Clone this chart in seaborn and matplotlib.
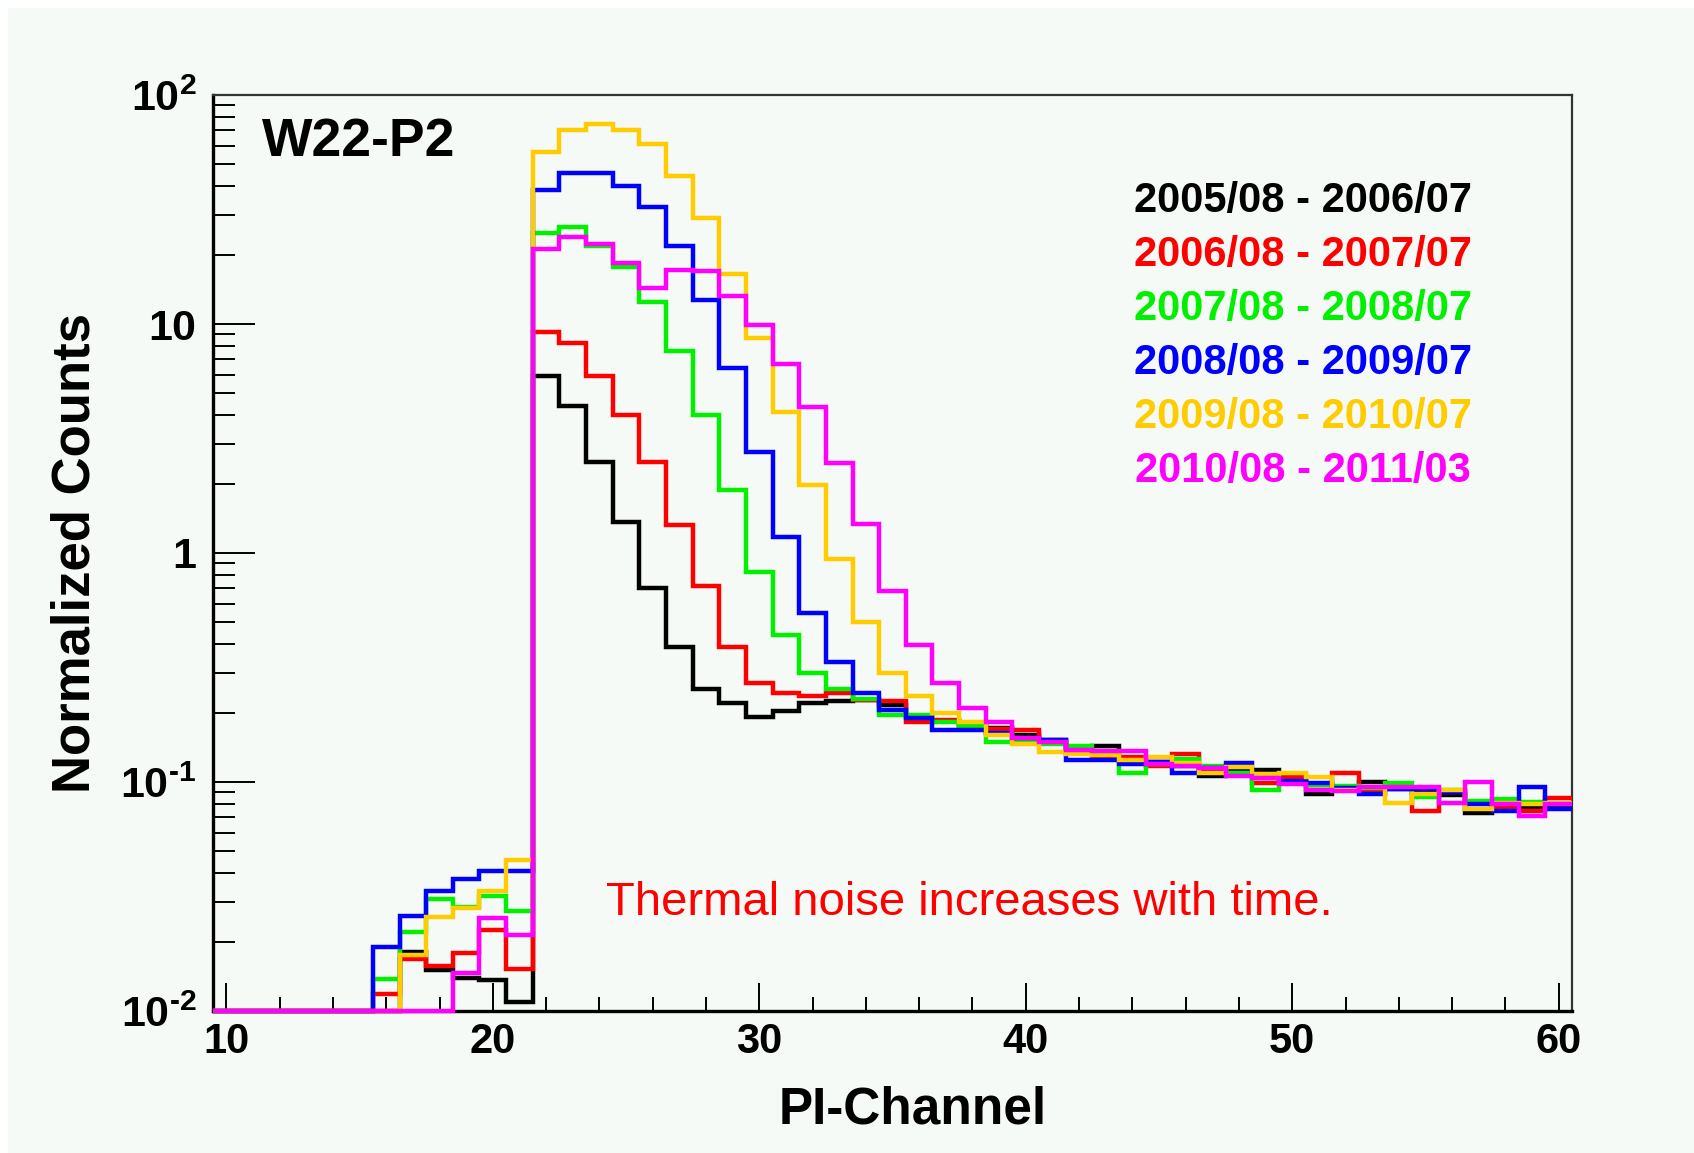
import numpy as np
import pandas as pd
import matplotlib
matplotlib.use("Agg")
import matplotlib.pyplot as plt
import seaborn as sns
from matplotlib.patches import Rectangle
from matplotlib.ticker import MultipleLocator, FixedLocator, FixedFormatter, LogLocator, NullFormatter

# ---------------- data ----------------
channels = list(range(10, 61))

periods = ["2005/08 - 2006/07", "2006/08 - 2007/07", "2007/08 - 2008/07",
           "2008/08 - 2009/07", "2009/08 - 2010/07", "2010/08 - 2011/03"]
colors = ["#000000", "#ff0000", "#00f000", "#0000ff", "#ffcc00", "#ff00ff"]

black = [0, 0, 0, 0, 0, 0, 0,
         0.0181, 0.0151, 0.0140, 0.0137, 0.0110,
         5.9, 4.4, 2.5, 1.37, 0.70, 0.39, 0.254, 0.221, 0.192,
         0.205, 0.221, 0.226, 0.228, 0.217, 0.195, 0.185, 0.176, 0.172, 0.161,
         0.152, 0.140, 0.143, 0.125, 0.122, 0.118, 0.106, 0.112, 0.113, 0.105,
         0.089, 0.093, 0.100, 0.093, 0.090, 0.088, 0.073, 0.080, 0.078, 0.078]
red = [0, 0, 0, 0, 0, 0,
       0.0119, 0.0168, 0.0158, 0.0180, 0.0226, 0.0152,
       9.2, 8.3, 5.9, 4.0, 2.5, 1.33, 0.72, 0.39, 0.27,
       0.244, 0.238, 0.245, 0.228, 0.225, 0.183, 0.186, 0.180, 0.170, 0.168,
       0.150, 0.138, 0.129, 0.129, 0.117, 0.133, 0.112, 0.108, 0.099, 0.105,
       0.097, 0.109, 0.092, 0.094, 0.075, 0.090, 0.081, 0.078, 0.075, 0.085]
green = [0, 0, 0, 0, 0, 0,
         0.0138, 0.0221, 0.0308, 0.0284, 0.0319, 0.0274,
         25.0, 26.6, 22.0, 17.8, 12.5, 7.6, 4.0, 1.88, 0.83,
         0.44, 0.30, 0.256, 0.230, 0.196, 0.196, 0.183, 0.176, 0.150, 0.150,
         0.146, 0.143, 0.136, 0.109, 0.120, 0.126, 0.118, 0.109, 0.092, 0.100,
         0.097, 0.096, 0.094, 0.099, 0.086, 0.092, 0.083, 0.084, 0.082, 0.080]
blue = [0, 0, 0, 0, 0, 0,
        0.0191, 0.0261, 0.0335, 0.0377, 0.0408, 0.0408,
        38.5, 45.5, 45.5, 40.1, 32.3, 21.8, 12.7, 6.4, 2.77,
        1.18, 0.546, 0.334, 0.244, 0.206, 0.190, 0.169, 0.169, 0.163, 0.155,
        0.153, 0.125, 0.125, 0.120, 0.122, 0.110, 0.115, 0.121, 0.108, 0.101,
        0.099, 0.094, 0.089, 0.093, 0.093, 0.090, 0.080, 0.075, 0.095, 0.076]
yellow = [0, 0, 0, 0, 0, 0, 0,
          0.0176, 0.0258, 0.0281, 0.0335, 0.0456,
          56.5, 70.3, 74.5, 70.3, 61.1, 44.3, 29.1, 16.6, 8.7,
          4.14, 1.98, 0.94, 0.50, 0.30, 0.238, 0.200, 0.182, 0.160, 0.147,
          0.135, 0.133, 0.131, 0.125, 0.129, 0.121, 0.109, 0.116, 0.108, 0.109,
          0.105, 0.092, 0.095, 0.081, 0.089, 0.092, 0.076, 0.081, 0.080, 0.081]
magenta = [0, 0, 0, 0, 0, 0, 0, 0, 0,
           0.0146, 0.0254, 0.0215,
           21.2, 24.0, 22.4, 18.4, 14.3, 17.2, 17.1, 13.3, 9.9,
           6.7, 4.33, 2.46, 1.34, 0.684, 0.396, 0.270, 0.210, 0.182, 0.155,
           0.149, 0.138, 0.137, 0.136, 0.120, 0.117, 0.115, 0.106, 0.104, 0.098,
           0.092, 0.091, 0.095, 0.095, 0.095, 0.081, 0.100, 0.080, 0.071, 0.080]

series = [black, red, green, blue, yellow, magenta]

ytick_vals = [0.01, 0.1, 1, 10, 100]
ytick_labels = [r"$10^{\text{-}2}$", r"$10^{\text{-}1}$", "1", "10", r"$10^{2}$"]

YMIN, YMAX = 0.01, 100
XMIN, XMAX = 9.5, 60.5

# ---------------- build step table ----------------
rows = []
for name, vals in zip(periods, series):
    edges = [c - 0.5 for c in channels] + [channels[-1] + 0.5]
    yv = list(vals) + [vals[-1]]
    for e, v in zip(edges, yv):
        rows.append({"edge": e, "value": max(v, YMIN), "period": name})
df = pd.DataFrame(rows)

# ---------------- style ----------------
sns.set_theme(style="ticks")
plt.rcParams["font.family"] = ["Liberation Sans", "DejaVu Sans"]
plt.rcParams["font.weight"] = "bold"
plt.rcParams["mathtext.fontset"] = "custom"
plt.rcParams["mathtext.rm"] = "Liberation Sans:bold"
plt.rcParams["mathtext.bf"] = "Liberation Sans:bold"
plt.rcParams["mathtext.it"] = "Liberation Sans:bold"
plt.rcParams["mathtext.default"] = "bf"

W, H = 1694, 1153
BG = "#f5faf6"

fig = plt.figure(figsize=(W / 100, H / 100), dpi=100, facecolor="white")
fig.patches.append(Rectangle((8 / W, 0), 1, 1 - 8 / H, transform=fig.transFigure,
                             facecolor=BG, edgecolor="none", zorder=-10))

L, R, T, B = 213, 1572, 95, 1011
ax = fig.add_axes([L / W, 1 - B / H, (R - L) / W, (B - T) / H])
ax.set_facecolor(BG)
ax.set_yscale("log")

sns.lineplot(data=df, x="edge", y="value", hue="period", hue_order=periods,
             palette=colors, drawstyle="steps-post", estimator=None, sort=False,
             linewidth=3.2, legend=False, ax=ax)
for ln in ax.lines:
    ln.set_clip_on(False)
    ln.set_solid_joinstyle("miter")
    ln.set_solid_capstyle("butt")

ax.set_xlim(XMIN, XMAX)
ax.set_ylim(YMIN, YMAX)
ax.set_xlabel("")
ax.set_ylabel("")

ax.xaxis.set_major_locator(MultipleLocator(10))
ax.xaxis.set_minor_locator(MultipleLocator(2))
ax.yaxis.set_major_locator(FixedLocator(ytick_vals))
ax.yaxis.set_major_formatter(FixedFormatter(ytick_labels))
ax.yaxis.set_minor_locator(LogLocator(base=10, subs=[2, 3, 4, 5, 6, 7, 8, 9], numticks=20))
ax.yaxis.set_minor_formatter(NullFormatter())

ax.tick_params(axis="x", which="major", direction="in", length=20, width=1.4,
               labelsize=30, pad=8, top=False, color="black", labelcolor="black")
ax.tick_params(axis="x", which="minor", direction="in", length=10, width=1.4,
               top=False, color="black")
ax.tick_params(axis="y", which="major", direction="in", length=30, width=1.4,
               labelsize=31, pad=12, right=False, color="black", labelcolor="black")
ax.tick_params(axis="y", which="minor", direction="in", length=16, width=1.4,
               right=False, color="black")

for s in ["left", "bottom"]:
    ax.spines[s].set_linewidth(2.4)
    ax.spines[s].set_color("black")
for s in ["top", "right"]:
    ax.spines[s].set_linewidth(1.6)
    ax.spines[s].set_color("#333333")
for s in ax.spines.values():
    s.set_zorder(1)

# axis titles
fig.text(913 / W, 1 - 1124 / H, "PI-Channel", fontsize=37, fontweight="bold",
         ha="center", va="baseline", color="black")
fig.text(75 / W, 1 - 553 / H, "Normalized Counts", fontsize=38, fontweight="bold",
         rotation=90, ha="center", va="center", color="black")

# panel label
fig.text(262 / W, 1 - 156 / H, "W22-P2", fontsize=38.5, fontweight="bold",
         ha="left", va="baseline", color="black")

# legend-like text list
for i, (name, c) in enumerate(zip(periods, colors)):
    base = 211.7 + 54 * i
    fig.text(1303 / W, 1 - base / H, name, fontsize=30, fontweight="bold",
             ha="center", va="baseline", color=c)

# annotation
fig.text(969 / W, 1 - 915 / H, "Thermal noise increases with time.", fontsize=34,
         fontweight="normal", ha="center", va="baseline", color="#ff0000")

fig.savefig("out.png", dpi=100, facecolor=fig.get_facecolor())
